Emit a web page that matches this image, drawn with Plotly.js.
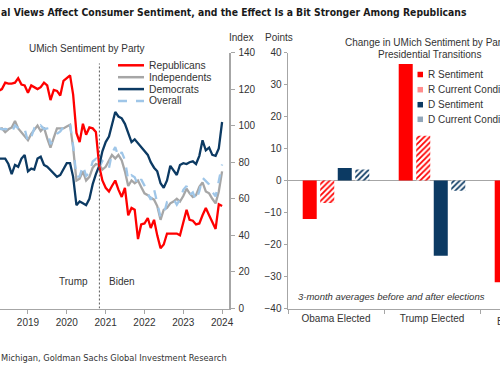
<!DOCTYPE html>
<html><head><meta charset="utf-8">
<script src="https://cdn.plot.ly/plotly-3.0.1.min.js"></script>
<style>html,body{margin:0;padding:0;background:#fff;}#chart{width:500px;height:368px;}</style>
</head><body><div id="chart"></div>
<script>
const months = [
 '2018-04-01','2018-05-01','2018-06-01','2018-07-01','2018-08-01','2018-09-01','2018-10-01','2018-11-01','2018-12-01',
 '2019-01-01','2019-02-01','2019-03-01','2019-04-01','2019-05-01','2019-06-01','2019-07-01','2019-08-01','2019-09-01','2019-10-01','2019-11-01','2019-12-01',
 '2020-01-01','2020-02-01','2020-03-01','2020-04-01','2020-05-01','2020-06-01','2020-07-01','2020-08-01','2020-09-01','2020-10-01','2020-11-01','2020-12-01',
 '2021-01-01','2021-02-01','2021-03-01','2021-04-01','2021-05-01','2021-06-01','2021-07-01','2021-08-01','2021-09-01','2021-10-01','2021-11-01','2021-12-01',
 '2022-01-01','2022-02-01','2022-03-01','2022-04-01','2022-05-01','2022-06-01','2022-07-01','2022-08-01','2022-09-01','2022-10-01','2022-11-01','2022-12-01',
 '2023-01-01','2023-02-01','2023-03-01','2023-04-01','2023-05-01','2023-06-01','2023-07-01','2023-08-01','2023-09-01','2023-10-01','2023-11-01','2023-12-01',
 '2024-01-01'];

const republicans = [
 119,120,123.5,123,123,123.5,126,122.5,122,
 118,122,121,120,121,123.5,122,114,119.5,119,116.5,124.5,
 126,127.5,117,96,91,101,95,99,98.5,96.5,78,70,
 66,64,67,70,65,61,66,51,55,54,38,46,
 46.5,49.5,44,48.5,40,33,35,41,41,41,41,40,
 47,54,48.5,48,46,46.5,51,55,51,47,43.5,57,
 56];

const independents = [
 98,98.5,96.5,98,99,102.5,98.5,96.5,94,
 92,95.5,97.5,100,97,99,93,88,93.5,98.5,98.5,98.5,
 99.5,100.5,88,70,71,75,70,72,77,79,78.5,76,
 77.5,81,84,82,84,81,75,67,70,68.5,70,66.5,
 63,62,60.5,59.5,56,48.5,54,55,57.5,58.5,60,58.5,
 61.5,65.5,63,61,62,66.5,69,64,63,60,57.5,64,
 75];

const democrats = [
 82,82,82,79,73.5,78.5,77.5,82,84,
 75,76.5,76,82,83,78.5,77.5,75.5,74,72,73,76.5,
 79.5,79.5,72,56.5,58.5,57.5,56.5,60,68,73.5,78,86,
 91,94,101,107.5,105,104,101,96,91,92.5,90.5,88.5,
 86,84,80,77,75,68.5,66,70,78,75.5,73,78.5,
 79.5,79,80,80.5,79,83.5,92,86.5,88,84,83.5,87.5,
 102];

const overall = [
 98.8,98.0,98.2,97.9,96.2,100.1,98.6,97.5,98.3,
 91.2,93.8,98.4,97.2,100.0,98.2,98.4,89.8,93.2,95.5,96.8,99.3,
 99.8,101.0,89.1,71.8,72.3,78.1,72.5,74.1,80.4,81.8,76.9,80.7,
 79.0,76.8,84.9,88.3,82.9,85.5,81.2,70.3,72.8,71.7,67.4,70.6,
 67.2,62.8,59.4,65.2,58.4,50.0,51.5,58.2,58.6,59.9,56.8,59.7,
 64.9,67.0,62.0,63.5,59.2,64.2,71.5,69.5,67.9,63.8,61.3,69.7,
 78.8];

const lineNames = ['Republicans','Independents','Democrats','Overall'];
const yearTicks = ['2019','2020','2021','2022','2023','2024'];
const electionDate = '2020-11-03';

const transitions = ['Obama Elected','Trump Elected','Biden Elected'];
const rSentiment = [-12, 36.4, -31.8];
const rCurrent = [-7, 14, -15];
const dSentiment = [3.9, -23.5, 20];
const dCurrent = [3.4, -3.2, 8];
const barNames = ['R Sentiment','R Current Conditions','D Sentiment','D Current Conditions'];

const RED = '#ff0000', NAVY = '#0c3a63', GREY = '#a6a6a6', LBLUE = '#9fc6e8';
const AX = '#a6a6a6', TXT = '#333333';
const FONT = 'Liberation Sans, Arial, sans-serif';
const NARROW = 'Liberation Sans Narrow, Arial Narrow, DejaVu Sans Condensed, sans-serif';
const W = 500, H = 368;
const px = x => x / W, py = y => 1 - y / H;

const lineSeries = [republicans, independents, democrats, overall];
const lineColors = [RED, GREY, NAVY, LBLUE];
const lineDash = ['solid','solid','solid','dash'];
const drawOrder = [1, 3, 2, 0];

const traces = [];
drawOrder.forEach(i => {
  traces.push({type:'scatter', mode:'lines', x: months, y: lineSeries[i], name: lineNames[i],
    xaxis:'x', yaxis:'y', line:{color: lineColors[i], width: 2.3, dash: lineDash[i]}, showlegend:false, hoverinfo:'skip'});
});

const barVals = [rSentiment, rCurrent, dSentiment, dCurrent];
const barColors = [RED, RED, NAVY, NAVY];
const barPattern = ['', '/', '', '/'];
barVals.forEach((v, i) => {
  traces.push({type:'bar', x: transitions, y: v, name: barNames[i], xaxis:'x2', yaxis:'y2',
    marker:{color: barPattern[i] ? '#ffffff' : barColors[i],
      pattern: barPattern[i] ? {shape:'/', fgcolor: barColors[i], bgcolor:'#ffffff', size:4, solidity:0.45} : undefined,
      line:{width:0}}, showlegend:false, hoverinfo:'skip'});
});

const yDom = [py(308.5), py(52.5)];
const shapes = [
  {type:'line', xref:'x', yref:'y', x0: electionDate, x1: electionDate, y0: 0, y1: 134,
   line:{color:'#595959', width:1, dash:'2px,2px'}}
];
const annotations = [];
const txt = (text, x, y, opts) => Object.assign({text, xref:'paper', yref:'paper', x: px(x), y: py(y),
  showarrow:false, xanchor:'center', yanchor:'middle', font:{family:FONT, size:10, color:TXT}}, opts || {});

// Left legend
const legY = [65.3, 77.2, 89.1, 101];
lineNames.forEach((n, i) => {
  shapes.push({type:'line', xref:'paper', yref:'paper', x0: px(118), x1: px(144), y0: py(legY[i]), y1: py(legY[i]),
    line:{color: lineColors[i], width: 2.5, dash: lineDash[i]}});
  annotations.push(txt(n, 146.5, legY[i], {xanchor:'left', font:{family:FONT, size:10.3, color:TXT}}));
});

// Right legend
const rlegY = [74.5, 89.7, 104.7, 119.3];
barNames.forEach((n, i) => {
  shapes.push({type:'rect', xref:'paper', yref:'paper', x0: px(417.5), x1: px(423), y0: py(rlegY[i]+2.75), y1: py(rlegY[i]-2.75),
    fillcolor: barPattern[i] ? (i === 1 ? 'rgba(255,0,0,0.45)' : 'rgba(12,58,99,0.45)') : barColors[i], line:{width:0}});
  annotations.push(txt(n, 425.5, rlegY[i], {xanchor:'left'}));
});

annotations.push(
  txt('al Views Affect Consumer Sentiment, and the Effect Is a Bit Stronger Among Republicans', -1, 12,
      {xanchor:'left', font:{family:NARROW, size:10.3, color:'#1a1a1a', weight:700}}),
  txt('Michigan, Goldman Sachs Global Investment Research', -1, 357,
      {xanchor:'left', font:{family:NARROW, size:9.2, color:TXT}}),
  txt('UMich Sentiment by Party', 87, 48),
  txt('Index', 241, 37),
  txt('Points', 279, 37),
  txt('Trump', 73.8, 281),
  txt('Biden', 122, 281),
  txt('Change in UMich Sentiment by Party', 343, 42.7, {xanchor:'left'}),
  txt('Presidential Transitions', 429, 54.3),
  txt('3-month averages before and after elections', 391, 296.7, {font:{family:FONT, size:9.5, color:TXT, style:'italic'}}),
  txt(transitions[2], 528, 321.5)
);

const layout = {
  width: W, height: H, margin:{l:0, r:0, t:0, b:0}, paper_bgcolor:'#fff', plot_bgcolor:'rgba(0,0,0,0)',
  font:{family:FONT, size:10, color:TXT},
  showlegend:false,
  barmode:'group', bargap:0.27, bargroupgap:0.2,
  xaxis:{domain:[0, px(229)], type:'date', range:['2018-04-13','2024-03-06'], anchor:'y',
    tickmode:'array', tickvals: yearTicks.map(y => y + '-01-01'), ticktext: yearTicks,
    ticks:'outside', ticklen:4, tickcolor:AX, showline:true, linecolor:AX, linewidth:1.5,
    showgrid:false, zeroline:false, tickfont:{size:10, color:TXT}},
  yaxis:{domain:yDom, range:[0,140], anchor:'x', side:'right', dtick:20, tick0:0,
    ticks:'outside', ticklen:4, tickcolor:AX, showline:true, linecolor:AX, linewidth:1.5,
    showgrid:false, zeroline:false, tickfont:{size:10, color:TXT}, ticklabelstandoff:2},
  xaxis2:{domain:[px(288), 1], type:'category', range:[-0.5, -0.5 + 212/96], anchor:'y2',
    ticks:'outside', tickson:'boundaries', ticklen:4, tickcolor:AX, showline:true, linecolor:AX, linewidth:1.5,
    showgrid:false, zeroline:false, tickfont:{size:10, color:TXT}},
  yaxis2:{domain:yDom, range:[-40,40], anchor:'x2', side:'left', dtick:10, tick0:0,
    ticks:'outside', ticklen:3, tickcolor:AX, showline:true, linecolor:AX, linewidth:1.5,
    showgrid:false, zeroline:true, zerolinecolor:AX, zerolinewidth:1.5, tickfont:{size:10, color:TXT}},
  shapes, annotations
};

Plotly.newPlot('chart', traces, layout, {staticPlot:true, displayModeBar:false});
</script></body></html>
